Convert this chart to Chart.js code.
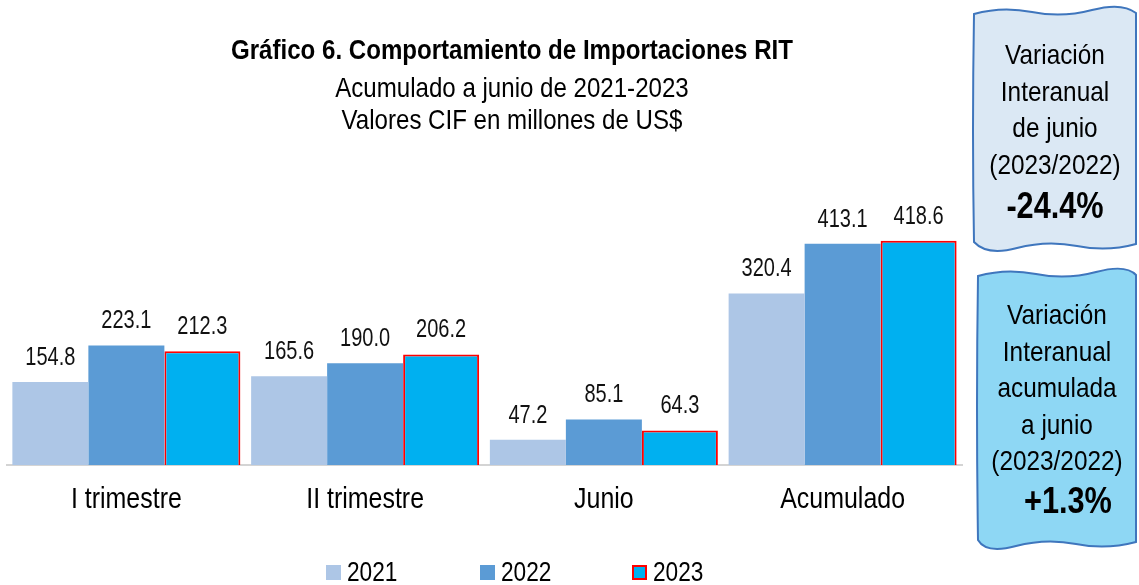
<!DOCTYPE html>
<html>
<head>
<meta charset="utf-8">
<script src="https://cdn.jsdelivr.net/npm/chart.js@4.4.0/dist/chart.umd.min.js"></script>
<style>
  body { margin: 0; background: #fff; }
  #wrap { position: relative; width: 1139px; height: 585px; font-family: "Liberation Sans", Arial, sans-serif; color: #000; }
  #chart { position: absolute; left: 0; top: 0; }
  .title { position: absolute; left: 112px; width: 800px; text-align: center; white-space: nowrap; font-size: 28px; line-height: 32px; transform: scaleX(0.86); transform-origin: center; }
  .box { position: absolute; text-align: center; }
  .box svg { position: absolute; left: 0; top: 0; }
  .box .txt { position: relative; font-size: 28px; transform: scaleX(0.87); transform-origin: center; white-space: nowrap; }
  .box .txt div { height: 36.5px; line-height: 36.5px; }
  .box .txt b { font-size: 36px; display: inline-block; transform: scaleX(0.98); }
  #legend { position: absolute; top: 557px; left: 0; width: 1139px; }
  #legend span.item { position: absolute; font-size: 28px; line-height: 30px; white-space: nowrap; }
  #legend i { display: inline-block; width: 15px; height: 15px; margin-right: 6px; vertical-align: 1px; box-sizing: border-box; }
  #legend em { font-style: normal; display: inline-block; transform: scaleX(0.81); transform-origin: left; }
</style>
</head>
<body>
<div id="wrap">
  <canvas id="chart" width="1139" height="585"></canvas>
  <div class="title" style="top:34px;font-weight:bold;">Gráfico 6. Comportamiento de Importaciones RIT</div>
  <div class="title" style="top:72px;">Acumulado a junio de 2021-2023</div>
  <div class="title" style="top:104px;">Valores CIF en millones de US$</div>

  <div class="box" style="left:972px;top:4px;width:166px;height:248px;">
    <svg width="166" height="248"><path d="M2 10 Q30 2 60 8 T120 6 T164 9 L164 240 Q135 248 105 242 T45 244 T2 238 Q0 130 2 10 Z" fill="#dbe8f4" stroke="#3f76bd" stroke-width="2"/></svg>
    <div class="txt" style="padding-top:33px;">
      <div>Variación</div><div>Interanual</div><div>de junio</div><div>(2023/2022)</div><div style="margin-top:5px;"><b>-24.4%</b></div>
    </div>
  </div>
  <div class="box" style="left:976px;top:266px;width:162px;height:284px;">
    <svg width="162" height="284"><path d="M2 10 Q30 2 60 8 T120 6 T160 9 L160 276 Q130 284 100 278 T40 280 T2 274 Q0 140 2 10 Z" fill="#8ed7f4" stroke="#3f76bd" stroke-width="2"/></svg>
    <div class="txt" style="padding-top:31px;">
      <div>Variación</div><div>Interanual</div><div>acumulada</div><div>a junio</div><div>(2023/2022)</div><div style="margin-top:3px;padding-left:26px;"><b>+1.3%</b></div>
    </div>
  </div>

  <div id="legend"></div>
</div>
<script>
// Datos
const categorias = ['I trimestre', 'II trimestre', 'Junio', 'Acumulado'];
const anios = ['2021', '2022', '2023'];
const valores2021 = [154.8, 165.6, 47.2, 320.4];
const valores2022 = [223.1, 190.0, 85.1, 413.1];
const valores2023 = [212.3, 206.2, 64.3, 418.6];

const colores = ['#adc6e6', '#5b9bd5', '#00b0f0'];
const bordes = ['#adc6e6', '#5b9bd5', '#ff0000'];

const fuente = '"Liberation Sans", Arial, sans-serif';

// texto angosto (simula Arial Narrow)
const textoAngosto = (ctx, txt, x, y, k) => {
    ctx.save();
    ctx.translate(x, y);
    ctx.scale(k, 1);
    ctx.fillText(txt, 0, 0);
    ctx.restore();
};

// etiquetas sobre las barras y del eje x
const etiquetasPlugin = {
    id: 'etiquetas',
    afterDatasetsDraw(chart) {
        const ctx = chart.ctx;
        ctx.save();
        ctx.fillStyle = '#111';
        ctx.textAlign = 'center';
        ctx.textBaseline = 'middle';
        ctx.font = '25px ' + fuente;
        chart.data.datasets.forEach((ds, i) => {
            chart.getDatasetMeta(i).data.forEach((bar, j) => {
                textoAngosto(ctx, ds.data[j].toFixed(1), bar.x, bar.y - 24, 0.8);
            });
        });
        const xs = chart.scales.x;
        ctx.fillStyle = '#000';
        ctx.font = '29px ' + fuente;
        chart.data.labels.forEach((l, i) => {
            textoAngosto(ctx, l, xs.getPixelForValue(i), xs.top + 35, 0.86);
        });
        ctx.restore();
    }
};

const series = [valores2021, valores2022, valores2023];

new Chart(document.getElementById('chart'), {
    type: 'bar',
    data: {
        labels: categorias,
        datasets: series.map((d, i) => ({
            label: anios[i],
            data: d,
            backgroundColor: colores[i],
            borderColor: bordes[i],
            borderWidth: i === 2 ? 2 : 0,
            barPercentage: 1,
            categoryPercentage: 0.955
        }))
    },
    options: {
        responsive: false,
        animation: false,
        layout: { padding: { left: 7, right: 177, top: 224, bottom: 0 } },
        plugins: {
            legend: { display: false },
            tooltip: { enabled: false }
        },
        scales: {
            x: {
                grid: { display: false, drawTicks: false },
                border: { display: true, color: '#d4d4d4', width: 2 },
                ticks: { display: false },
                afterFit(scale) { scale.height = 120; }
            },
            y: {
                display: false,
                min: 0,
                max: 450
            }
        }
    },
    plugins: [etiquetasPlugin]
});

// leyenda
const posLeyenda = [326, 480, 632];
const leyenda = document.getElementById('legend');
anios.forEach((a, i) => {
    const s = document.createElement('span');
    s.className = 'item';
    s.style.left = posLeyenda[i] + 'px';
    s.innerHTML = `<i style="background:${colores[i]};${i === 2 ? 'border:2px solid #ff0000;' : ''}"></i><em>${a}</em>`;
    leyenda.appendChild(s);
});
</script>
</body>
</html>
